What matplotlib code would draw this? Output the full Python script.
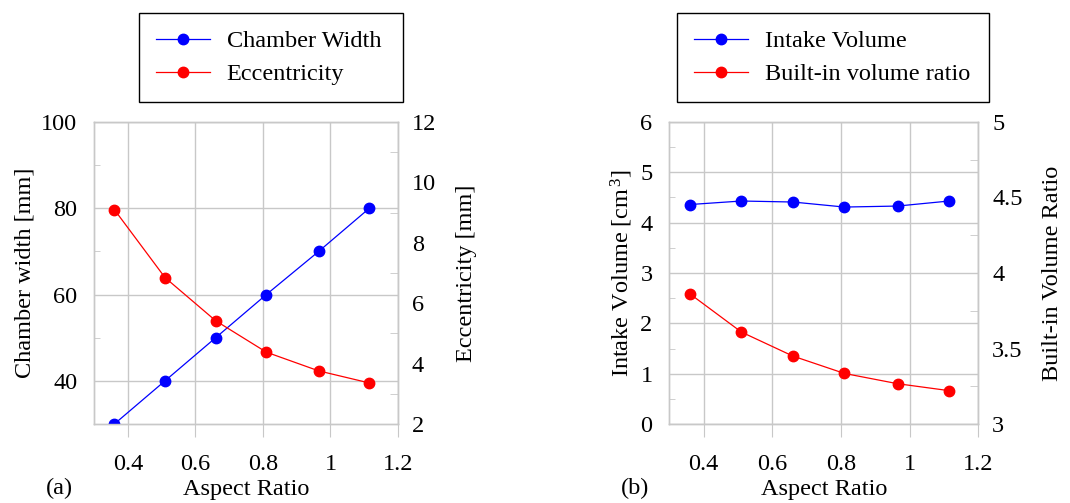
import numpy as np
import matplotlib
matplotlib.use("Agg")
import matplotlib.pyplot as plt
from matplotlib.ticker import MultipleLocator, FormatStrFormatter

# Font serif tipo Times
plt.rcParams['font.family'] = ['Liberation Serif', 'DejaVu Serif']
plt.rcParams['mathtext.fontset'] = 'custom'
plt.rcParams['mathtext.rm'] = 'Liberation Serif'
plt.rcParams['mathtext.it'] = 'Liberation Serif:italic'
fs = 17.5
plt.rcParams['font.size'] = fs

# Dati
aspect_ratio = [0.36, 0.51, 0.66, 0.81, 0.965, 1.115]
chamber_width = [30, 40, 50, 60, 70, 80]
eccentricity = [9.1, 6.85, 5.42, 4.38, 3.76, 3.36]
intake_volume = [4.36, 4.43, 4.41, 4.31, 4.33, 4.43]
volume_ratio = [3.862, 3.609, 3.45, 3.335, 3.267, 3.221]

x_ticks = [0.4, 0.6, 0.8, 1.0, 1.2]
grigio = '#c8c8c8'

fig = plt.figure(figsize=(10.7, 5.03), dpi=100)


def pannello(pos, y1, y2, lim1, lim2, step1, step2, minor1, minor2,
             label1, label2, leg1, leg2, leg_box, lettera, pad_lab2):
    ax = fig.add_axes(pos)
    ax2 = ax.twinx()

    l1, = ax.plot(aspect_ratio, y1, color='blue', lw=0.9, marker='o', ms=7.5,
                  label=leg1, zorder=3)
    l2, = ax2.plot(aspect_ratio, y2, color='red', lw=0.9, marker='o', ms=7.5,
                   label=leg2, zorder=3)

    ax.set_xlim(0.3, 1.2)
    ax.set_ylim(*lim1)
    ax2.set_ylim(*lim2)
    ax.set_xticks(x_ticks)
    ax.xaxis.set_major_formatter(FormatStrFormatter('%g'))
    ax.yaxis.set_major_locator(MultipleLocator(step1))
    ax.yaxis.set_minor_locator(MultipleLocator(minor1))
    ax2.yaxis.set_major_locator(MultipleLocator(step2))
    ax2.yaxis.set_minor_locator(MultipleLocator(minor2))
    ax2.yaxis.set_major_formatter(FormatStrFormatter('%g'))

    ax.grid(True, which='major', color=grigio, lw=1.0)
    ax.set_axisbelow(True)
    for a in (ax, ax2):
        for s in a.spines.values():
            s.set_color(grigio)
            s.set_linewidth(1.0)

    ax.tick_params(axis='x', which='major', direction='out', length=9.5,
                   color=grigio, pad=12, labelsize=fs)
    ax.tick_params(axis='y', which='major', length=0, pad=12, labelsize=fs)
    ax.tick_params(axis='y', which='minor', direction='in', length=4.5,
                   color=grigio)
    ax2.tick_params(axis='y', which='major', length=0, pad=10, labelsize=fs)
    ax2.tick_params(axis='y', which='minor', direction='in', length=6,
                    color=grigio)

    # etichetta asse x appena dentro il bordo inferiore
    ax.set_xlabel('Aspect Ratio', fontsize=fs, labelpad=3)
    ax.set_ylabel(label1, fontsize=fs, labelpad=4)
    ax2.set_ylabel(label2, fontsize=fs, labelpad=pad_lab2)

    leg = fig.legend([l1, l2], [leg1, leg2], loc='upper left',
                     bbox_to_anchor=leg_box, mode='expand', fontsize=fs,
                     fancybox=False, edgecolor='black', framealpha=1,
                     borderpad=0.7, labelspacing=0.45, handlelength=2.2,
                     handletextpad=0.7, borderaxespad=0)
    leg.get_frame().set_linewidth(1.0)

    fig.text(pos[0] - 0.045, 0.018, lettera, fontsize=fs)
    return ax, ax2


# Pannello (a)
pannello([0.0879, 0.157, 0.2841, 0.6005],
         chamber_width, eccentricity, (30, 100), (2, 12), 20, 2, 10, 1,
         'Chamber width [mm]', 'Eccentricity [mm]',
         'Chamber Width', 'Eccentricity',
         (0.13, 0.799, 0.2466, 0.175), '(a)', 14)

# Pannello (b)
pannello([0.6255, 0.157, 0.2888, 0.6005],
         intake_volume, volume_ratio, (0, 6), (3, 5), 1, 0.5, 0.5, 0.25,
         r'Intake Volume [cm$^{\,3}$]', 'Built-in Volume Ratio',
         'Intake Volume', 'Built-in volume ratio',
         (0.633, 0.799, 0.2916, 0.175), '(b)', 14)

plt.savefig('out.png', dpi=100)
